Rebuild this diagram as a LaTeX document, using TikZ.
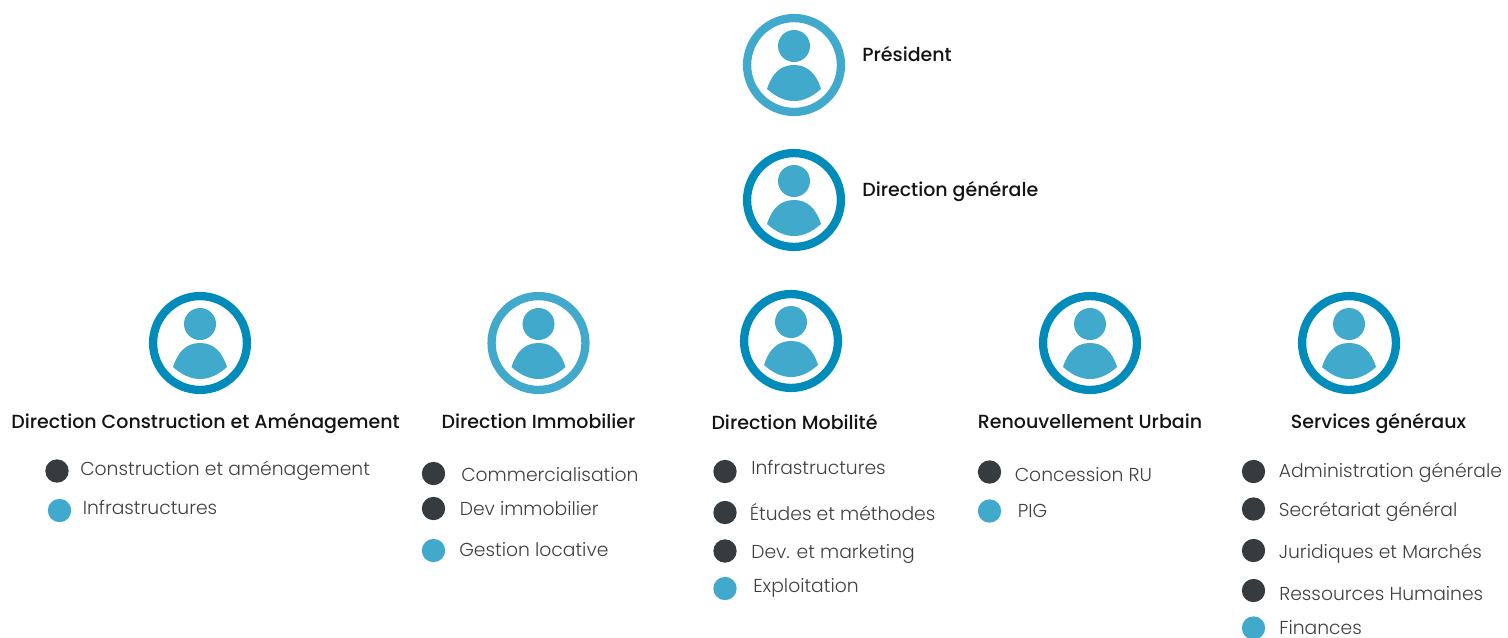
\documentclass[tikz,border=0pt]{standalone}
\usepackage{fontspec}
\setmainfont{Poppins}
\newfontfamily\medfont{Poppins Medium}
\newfontfamily\lightfont{Poppins Light}
\definecolor{bluelight}{HTML}{41A9CB}
\definecolor{bluedark}{HTML}{008CBA}
\definecolor{dotdark}{HTML}{353B3F}
\definecolor{itemtext}{HTML}{404040}
\definecolor{headtext}{HTML}{141414}
\tikzset{
  ring/.style={circle,draw=#1,line width=6.2pt,minimum size=70.4pt,inner sep=0pt,fill=white},
  head/.style={circle,fill=bluelight,minimum size=24pt,inner sep=0pt},
  title/.style={text=headtext,font=\medfont\fontsize{14.25}{16}\selectfont,inner sep=0pt},
  item/.style={text=itemtext,font=\lightfont\fontsize{14.05}{16}\selectfont,anchor=base west,inner sep=0pt},
  dotd/.style={circle,fill=dotdark,minimum size=17.5pt,inner sep=0pt},
  dotb/.style={circle,fill=bluelight,minimum size=17.5pt,inner sep=0pt},
}
\newcommand{\person}[4]{%
  \node[ring=#4] (#1) at (#2,#3) {};
  \node[head] (#1h) at (#2,#3-19) {};
  \fill[bluelight] (#2-27,#3+24) .. controls (#2-22,#3+8) and (#2-13,#3) .. (#2,#3)
     .. controls (#2+13,#3) and (#2+22,#3+8) .. (#2+27,#3+24)
     .. controls (#2+18,#3+32) and (#2+9,#3+36) .. (#2,#3+36)
     .. controls (#2-9,#3+36) and (#2-18,#3+32) .. (#2-27,#3+24) -- cycle;
}
\newcommand{\entry}[6]{% name, dot style, dot x, dot y, text x, text baseline ; text follows
  \node[#2] (#1d) at (#3,#4) {};
  \node[item] (#1t) at (#5,#6) }
\begin{document}
\begin{tikzpicture}[x=0.75pt,y=-0.75pt]
\useasboundingbox (0,0) rectangle (1508,637);
\person{pres}{794}{65}{bluelight}
\person{dg}{794}{200}{bluedark}
\person{dca}{200}{343}{bluedark}
\person{dim}{538.5}{343}{bluelight}
\person{dmo}{791}{341}{bluedark}
\person{dru}{1090}{343}{bluedark}
\person{dsg}{1349}{343}{bluedark}
\node[title,anchor=base west] (tpres) at (862,61) {Président};
\node[title,anchor=base west] (tdg) at (862,196) {Direction générale};
\node[title,anchor=base] (tdca) at (205.5,428) {Direction Construction et Aménagement};
\node[title,anchor=base] (tdim) at (538.5,428) {Direction Immobilier};
\node[title,anchor=base] (tdmo) at (794.5,429) {Direction Mobilité};
\node[title,anchor=base] (tdru) at (1090,428) {Renouvellement Urbain};
\node[title,anchor=base] (tdsg) at (1378.5,428) {Services généraux};
\entry{a1}{dotd}{57}{471}{80}{475}{Construction et aménagement};
\entry{a2}{dotb}{59.5}{510.5}{82.5}{514}{Infrastructures};
\entry{b1}{dotd}{433.5}{473.5}{461}{481}{Commercialisation};
\entry{b2}{dotd}{433.5}{508.5}{459.5}{515}{Dev immobilier};
\entry{b3}{dotb}{433.5}{550.5}{459}{556}{Gestion locative};
\entry{c1}{dotd}{725}{471.5}{751}{474}{Infrastructures};
\entry{c2}{dotd}{725}{512.5}{749.5}{520}{Études et méthodes};
\entry{c3}{dotd}{725}{551}{751}{558}{Dev. et marketing};
\entry{c4}{dotb}{725}{588.5}{753}{592}{Exploitation};
\entry{d1}{dotd}{989.5}{472}{1014.5}{481}{Concession RU};
\entry{d2}{dotb}{989.5}{511}{1017.5}{517}{PIG};
\entry{e1}{dotd}{1253.5}{471.5}{1278.5}{477}{Administration générale};
\entry{e2}{dotd}{1253.5}{509}{1278.5}{516}{Secrétariat général};
\entry{e3}{dotd}{1253.5}{550.5}{1278.5}{558}{Juridiques et Marchés};
\entry{e4}{dotd}{1253.5}{590.5}{1279}{600}{Ressources Humaines};
\entry{e5}{dotb}{1253.5}{628}{1279}{634}{Finances};
\end{tikzpicture}
\end{document}
